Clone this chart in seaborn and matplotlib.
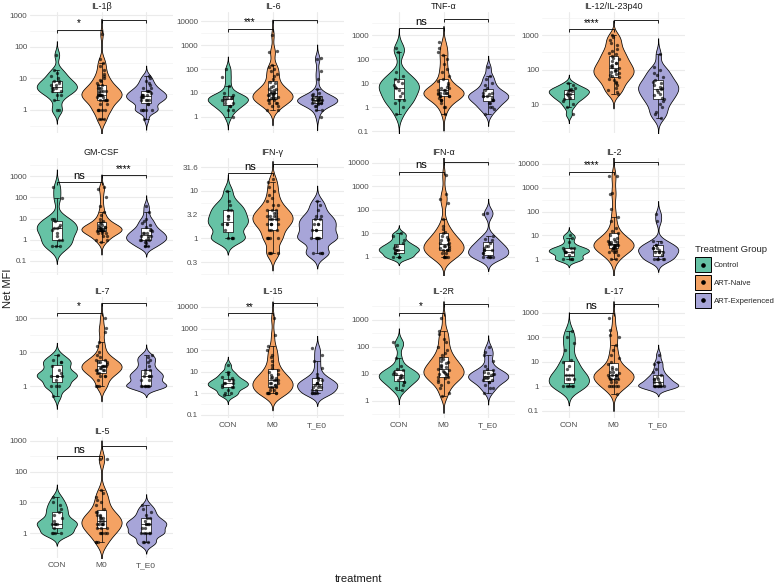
import numpy as np
import pandas as pd
import matplotlib
matplotlib.use("Agg")
import matplotlib.pyplot as plt
from matplotlib.patches import Patch, Rectangle
from matplotlib.lines import Line2D
from matplotlib.legend_handler import HandlerBase
from matplotlib.ticker import FixedLocator, FixedFormatter, NullFormatter
import seaborn as sns

# --- data (Net MFI per sample) ---
GROUPS = ["CON", "M0", "T_E0"]
GROUP_LABELS = ["Control", "ART-Naive", "ART-Experienced"]
COLORS = ["#66C2A5", "#F4A263", "#A7A5D8"]

IL1B = dict(
    CON=[1, 1, 2, 3, 3, 4, 4, 4.5, 5, 5, 6, 6, 7, 8, 8, 10, 12, 15, 18, 55],
    M0=[0.5, 0.5, 0.5, 1, 1, 1, 1, 1, 1.5, 1.5, 2, 2, 2, 2, 2, 2.5, 2.5, 3, 3, 3, 3, 3, 3, 3.5,
        4, 4, 4, 4, 5, 5, 5, 6, 6, 7, 8, 9, 10, 12, 14, 18, 25, 30, 40, 250],
    T_E0=[0.5, 1, 1, 1, 1, 1, 1.5, 1.5, 2, 2, 2, 2, 2.5, 2.5, 2.5, 3, 3, 3, 3, 3.5, 4, 4, 4,
          5, 5, 6, 7, 8, 10, 12],
)
IL6 = dict(
    CON=[1, 2, 2, 3, 3, 4, 4, 5, 5, 6, 6, 7, 7, 8, 10, 20, 45, 100],
    M0=[2, 2, 3, 3, 4, 4, 4, 5, 5, 5, 6, 6, 6, 7, 7, 8, 8, 8, 9, 10, 10, 11, 12, 13, 15, 15,
        18, 20, 25, 30, 40, 50, 60, 80, 100, 120, 150, 500, 550, 2600],
    T_E0=[1, 2, 2, 3, 3, 3.5, 4, 4, 4, 4, 4.5, 4.5, 5, 5, 5, 5, 5.5, 6, 6, 6, 7, 7, 8, 9, 10,
          15, 40, 80, 250, 300],
)
TNFA = dict(
    CON=[0.5, 1, 1.5, 2, 2, 3, 4, 5, 6, 7, 8, 10, 12, 15, 20, 30, 200, 300],
    M0=[0.5, 1, 1, 1.5, 2, 2, 2, 2.5, 3, 3, 3, 3, 3.5, 4, 4, 4, 4, 4, 5, 5, 5, 6, 6, 7, 8, 10,
        12, 15, 20, 30, 40, 60, 100, 150, 200, 300, 500],
    T_E0=[0.5, 0.8, 1, 1, 1.5, 1.5, 2, 2, 2, 2.5, 3, 3, 3, 3.5, 4, 4, 5, 6, 8, 10, 15, 20, 45],
)
IL12 = dict(
    CON=[5, 8, 10, 12, 14, 15, 16, 18, 20, 20, 22, 24, 25, 26, 28, 30, 35, 40],
    M0=[20, 22, 25, 30, 35, 40, 45, 50, 55, 60, 65, 70, 75, 80, 85, 90, 95, 100, 110, 120, 130,
        140, 150, 160, 180, 200, 220, 250, 280, 300, 350, 400, 500, 600, 700, 900, 1000],
    T_E0=[4, 5, 6, 8, 10, 12, 14, 15, 18, 20, 22, 25, 28, 30, 32, 35, 40, 45, 50, 60, 70, 80,
          100, 120, 280],
)
GMCSF = dict(
    CON=[0.5, 0.5, 0.5, 1, 1, 1.5, 2, 3, 3.5, 3.5, 4, 5, 8, 9, 10, 90, 300],
    M0=[0.8, 1, 1, 1.5, 1.5, 2, 2, 2, 2.5, 2.5, 3, 3, 3, 3, 3, 3, 3.5, 3.5, 4, 4, 4, 5, 5, 6, 7,
        8, 10, 15, 20, 40, 100, 250, 300],
    T_E0=[0.5, 0.5, 0.5, 0.7, 0.8, 1, 1, 1, 1, 1.2, 1.5, 1.5, 1.5, 2, 2, 2, 2.5, 3, 3, 4, 5, 6,
          8, 10, 20, 40],
)
IFNG = dict(
    CON=[1, 1, 1, 1, 1.5, 2, 2, 2, 2.5, 3, 3, 4, 4, 5, 6, 10],
    M0=[0.5, 0.5, 0.5, 0.5, 1, 1, 1, 1, 1, 1.5, 1.5, 1.5, 2, 2, 2, 2, 2, 2.5, 2.5, 2.5, 2.5, 3,
        3, 3, 3, 3.5, 3.5, 4, 4, 4, 5, 5, 6, 7, 8, 10, 12, 15, 18],
    T_E0=[0.5, 0.5, 0.5, 0.5, 1, 1, 1, 1, 1, 1, 1.5, 1.5, 1.5, 2, 2, 2, 2.5, 2.5, 3, 3, 4, 5, 6],
)
IFNA = dict(
    CON=[1, 1, 1, 1.5, 1.5, 2, 2, 2, 2.5, 3, 3, 4, 5, 8, 10],
    M0=[1, 1, 1, 1, 1, 1.5, 1.5, 2, 2, 2, 2, 2.5, 2.5, 3, 3, 3, 3.5, 4, 4, 5, 5, 6, 7, 8, 10,
        12, 15, 20, 40, 200, 300, 500, 3000],
    T_E0=[1, 1, 1, 1, 1, 1.5, 1.5, 2, 2, 2, 2.5, 3, 3, 4, 5, 6, 8, 70, 75],
)
IL2 = dict(
    CON=[1, 1, 1, 1, 1.5, 2, 2, 2, 2, 2.5, 3, 3, 3, 5, 8, 10],
    M0=[1, 1, 1.5, 2, 2, 2, 2.5, 2.5, 3, 3, 3, 3.5, 3.5, 4, 4, 4, 4, 4.5, 4.5, 5, 5, 5, 6, 6, 7,
        8, 10, 12, 15, 20, 40, 60, 130, 550, 600, 3000, 3100],
    T_E0=[1, 1, 1, 1, 1, 1.5, 2, 2, 2, 2, 2.5, 3, 3, 3, 4, 4, 5, 6, 40, 80],
)
IL7 = dict(
    CON=[0.5, 1, 1, 1, 1.5, 2, 2, 2, 2, 2.5, 3, 4, 5, 5, 6, 8],
    M0=[1, 1, 1, 1.5, 2, 2, 2, 2.5, 2.5, 3, 3, 3, 3, 3.5, 3.5, 4, 4, 4, 4, 4.5, 5, 5, 5, 6, 6, 7,
        8, 10, 15, 20, 40, 50, 100],
    T_E0=[1, 1, 1, 1, 1, 1, 1, 1.5, 1.5, 2, 2, 2, 2, 2.5, 3, 3, 4, 5, 6, 7, 8],
)
IL15 = dict(
    CON=[0.8, 1, 1, 1.5, 2, 2, 2, 2.5, 3, 3, 3, 4, 4, 5, 6, 8, 10, 20],
    M0=[1, 1, 1, 1, 1, 1, 1.5, 1.5, 2, 2, 2, 2.5, 2.5, 3, 3, 3, 4, 4, 4, 5, 5, 6, 7, 8, 10, 12,
        15, 20, 30, 50, 60, 100, 150, 500, 3000],
    T_E0=[1, 1, 1, 1, 1, 1.5, 1.5, 2, 2, 2, 2.5, 2.5, 3, 3, 3, 4, 4, 5, 6, 8, 15, 30, 60, 120],
)
IL2R = dict(
    CON=[2.5, 3, 4, 5, 5, 6, 7, 8, 8, 9, 10, 10, 12, 14, 15, 20, 40, 120, 150],
    M0=[1.5, 2, 3, 4, 5, 5, 6, 7, 8, 8, 9, 10, 10, 11, 12, 13, 14, 15, 16, 18, 20, 22, 25, 28,
        30, 35, 40, 50, 60, 80, 100, 150, 200, 300, 400, 1200],
    T_E0=[2, 3, 3, 4, 5, 5, 6, 6, 7, 7, 8, 8, 9, 10, 10, 11, 12, 14, 15, 20, 30, 50, 65, 100],
)
IL17 = dict(
    CON=[1, 1, 1, 1, 1, 2, 2, 2, 3, 3, 3, 5, 7, 10, 12, 30, 60, 100, 180],
    M0=[0.5, 1, 1, 1, 1, 1, 1.5, 1.5, 2, 2, 2, 2, 2.5, 2.5, 3, 3, 3, 3, 3.5, 4, 4, 5, 5, 6, 8,
        10, 15, 20, 30, 50, 100, 120, 200, 600],
    T_E0=[1, 1, 1, 1, 1, 1, 1, 1, 1.2, 1.5, 1.5, 2, 2, 2, 2.5, 3, 4, 5, 8, 10, 20],
)
IL5 = dict(
    CON=[1, 1, 1, 1, 1.5, 2, 2, 2, 2, 2.5, 3, 4, 5, 6, 8, 10, 15],
    M0=[0.5, 0.5, 0.5, 1, 1, 1, 1, 1, 1.5, 1.5, 1.5, 2, 2, 2, 2, 2, 2.5, 2.5, 3, 3, 3, 3.5, 4, 4,
        5, 5, 6, 8, 10, 12, 15, 20, 25, 250, 260],
    T_E0=[0.5, 0.5, 0.5, 1, 1, 1, 1, 1, 1.5, 1.5, 2, 2, 2, 2, 2.5, 3, 3, 4, 5, 6, 8],
)

PANEL_NAMES = ["IL-1β", "IL-6", "TNF-α", "IL-12/IL-23p40",
               "GM-CSF", "IFN-γ", "IFN-α", "IL-2",
               "IL-7", "IL-15", "IL-2R", "IL-17", "IL-5"]
PANEL_DATA = [IL1B, IL6, TNFA, IL12, GMCSF, IFNG, IFNA, IL2, IL7, IL15, IL2R, IL17, IL5]

# y range (log10) of each panel
Y_LOG_RANGE = [(-0.73, 3.10), (-0.67, 4.38), (-1.08, 3.96), (0.16, 3.67),
               (-1.66, 3.85), (-0.77, 1.69), (-0.77, 4.21), (-0.67, 4.25),
               (-0.94, 2.62), (-1.14, 4.46), (-0.63, 3.85), (-1.29, 3.65),
               (-0.81, 3.13)]

# significance brackets: CON vs M0 (low) and M0 vs T_E0 (high)
BRACKET_LOW = [340, 4700, 1950, 1480, 525, 23.4, 4200, 4600, 141, 5200, 1820, 1000, 324]
BRACKET_HIGH = [690, 11000, 4700, 2700, 1120, 36.3, 11000, 12000, 275, 15500, 3900, 2340, 690]
SIG_LOW = ["*", "***", "ns", "****", "ns", "ns", "ns", "****", "*", "**", "*", "ns", "ns"]
SIG_HIGH = ["", "", "", "", "****", "", "", "", "", "", "", "", ""]

# --- layout (pixels) ---
W, H = 779, 584
COL_LEFT = [30, 201, 372, 542]
COL_WIDTH = 143
ROWS = [(12, 133), (158, 275), (297, 418), (437, 558)]
XLABEL_PANELS = {9, 10, 11, 12}

sns.set_theme(style="white")
plt.rcParams['font.family'] = ['Liberation Sans', 'DejaVu Sans']

fig = plt.figure(figsize=(W / 100, H / 100), dpi=100)


def fmt_tick(m):
    v = 10 ** m
    if abs(m - round(m)) < 1e-9:
        return f"{v:g}"
    return f"{v:.1f}"


class KeyHandler(HandlerBase):
    # filled square with a black dot, like the ggplot violin + point key
    def create_artists(self, legend, orig_handle, xdescent, ydescent, width, height,
                       fontsize, trans):
        rect = Rectangle((-xdescent, -ydescent), width, height,
                         facecolor=orig_handle.get_facecolor(), edgecolor="black",
                         linewidth=0.7, transform=trans)
        dot = Line2D([-xdescent + width / 2], [-ydescent + height / 2], marker="o",
                     color="black", markersize=2.3, linestyle="", transform=trans)
        return [rect, dot]


for i, (name, data) in enumerate(zip(PANEL_NAMES, PANEL_DATA)):
    r, c = divmod(i, 4)
    top, bot = ROWS[r]
    ax = fig.add_axes([COL_LEFT[c] / W, 1 - bot / H, COL_WIDTH / W, (bot - top) / H])

    df = pd.DataFrame({
        "treatment": np.repeat(GROUPS, [len(data[g]) for g in GROUPS]),
        "value": np.concatenate([data[g] for g in GROUPS]),
    })

    sns.violinplot(data=df, x="treatment", y="value", hue="treatment", order=GROUPS,
                   hue_order=GROUPS, palette=COLORS, saturation=1, log_scale=True, cut=3,
                   bw_adjust=0.65, width=0.9, inner=None, linewidth=0.55, linecolor="black",
                   density_norm="area", legend=False, ax=ax)
    sns.boxplot(data=df, x="treatment", y="value", order=GROUPS, color="white",
                log_scale=True, width=0.22, showfliers=False, linewidth=0.5,
                linecolor="black", ax=ax)
    np.random.seed(3 + i)
    sns.stripplot(data=df, x="treatment", y="value", order=GROUPS, color="black",
                  log_scale=True, jitter=0.13, size=2.4, alpha=0.65, linewidth=0, ax=ax)

    lo, hi = Y_LOG_RANGE[i]
    ax.set_ylim(10 ** lo, 10 ** hi)
    ax.set_xlim(-0.6, 2.6)

    # ticks: full decades, or half decades for IFN-γ
    step = 0.5 if name == "IFN-γ" else 1.0
    majors = np.arange(np.ceil(lo / step) * step, hi + 1e-9, step)
    minors = np.arange(np.floor(lo / step) * step - step / 2, hi + step, step)
    ax.yaxis.set_major_locator(FixedLocator(10 ** majors))
    ax.yaxis.set_major_formatter(FixedFormatter([fmt_tick(m) for m in majors]))
    ax.yaxis.set_minor_locator(FixedLocator(10 ** minors))
    ax.yaxis.set_minor_formatter(NullFormatter())

    ax.set_axisbelow(True)
    ax.grid(which="major", axis="both", color="#EBEBEB", linewidth=0.8)
    ax.grid(which="minor", axis="y", color="#F1F1F1", linewidth=0.45)
    for s in ax.spines.values():
        s.set_visible(False)
    ax.tick_params(which="both", length=0, labelsize=5.8, labelcolor="#4D4D4D", pad=2)
    ax.tick_params(axis="x", labelbottom=i in XLABEL_PANELS, pad=3, labelsize=6)
    ax.set_xlabel("")
    ax.set_ylabel("")
    ax.set_title(name, fontsize=6.5, pad=2.5, color="#1A1A1A")

    # brackets
    tick = 0.025 * (hi - lo)
    for (x0, x1), yb, lab in [((0, 1), BRACKET_LOW[i], SIG_LOW[i]),
                              ((1, 2), BRACKET_HIGH[i], SIG_HIGH[i])]:
        yt = 10 ** (np.log10(yb) - tick)
        ax.plot([x0, x0, x1, x1], [yt, yb, yb, yt], color="black", lw=0.6,
                clip_on=False, solid_capstyle="butt")
        if lab:
            ax.text((x0 + x1) / 2, 10 ** (np.log10(yb) + 0.012 * (hi - lo)), lab,
                    ha="center", va="bottom", fontsize=8 if lab == "ns" else 7.3,
                    color="black")

fig.text(8 / W, 1 - 288 / H, "Net MFI", rotation=90, ha="center", va="center",
         fontsize=8, color="#1A1A1A")
fig.text(358 / W, 1 - 579 / H, "treatment", ha="center", va="center",
         fontsize=8, color="#1A1A1A")

handles = [Patch(facecolor=col) for col in COLORS]
leg = fig.legend(handles, GROUP_LABELS, title="Treatment Group", loc="upper left",
                 bbox_to_anchor=(690 / W, 1 - 240 / H), frameon=False,
                 fontsize=5.6, title_fontsize=6.8, borderpad=0.2,
                 handlelength=2.0, handleheight=2.7,
                 labelspacing=0.3, handletextpad=0.35, alignment="left",
                 handler_map={Patch: KeyHandler()})

fig.savefig("out.png", dpi=100)
